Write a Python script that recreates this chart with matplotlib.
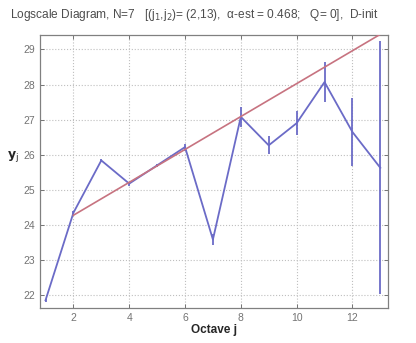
import matplotlib
matplotlib.use("Agg")
import matplotlib.pyplot as plt

# Data
octaves = [1, 2, 3, 4, 5, 6, 7, 8, 9, 10, 11, 12, 13]
yj = [21.86, 24.35, 25.84, 25.18, 25.70, 26.22, 23.59, 27.08, 26.27, 26.90, 28.07, 26.65, 25.63]
yerr = [0.04, 0.05, 0.05, 0.06, 0.05, 0.10, 0.17, 0.29, 0.26, 0.35, 0.58, 0.97, 3.6]
fit_j = [2, 13]
fit_y = [24.28, 29.43]
xticks = [2, 4, 6, 8, 10, 12]
yticks = [22, 23, 24, 25, 26, 27, 28, 29]

plt.rcParams['font.family'] = ['Liberation Sans', 'DejaVu Sans']

fig = plt.figure(figsize=(4.16, 3.43), dpi=100)
ax = fig.add_axes([0.096, 0.102, 0.837, 0.796])

blue = (0.42, 0.42, 0.78)
red = (0.78, 0.45, 0.50)

ax.errorbar(octaves, yj, yerr=yerr, color=blue, lw=1.3, elinewidth=1.3, capsize=0, zorder=3)
ax.plot(fit_j, fit_y, color=red, lw=1.2, zorder=4)

ax.set_xlim(0.8, 13.28)
ax.set_ylim(21.64, 29.41)
ax.set_xticks(xticks)
ax.set_yticks(yticks)
ax.grid(True, linestyle=':', color=(0.75, 0.75, 0.75), lw=0.8)
ax.tick_params(direction='in', top=True, right=True, length=3, width=0.7,
               colors=(0.45, 0.45, 0.45), labelsize=7.5, labelcolor=(0.45, 0.45, 0.45))
for s in ax.spines.values():
    s.set_color((0.5, 0.5, 0.5))
    s.set_linewidth(0.9)

ax.set_xlabel('Octave j', fontsize=8.5, fontweight='bold', labelpad=1, color=(0.15, 0.15, 0.15))
fig.text(0.031, 0.545, r'$\mathbf{y}_{\mathrm{j}}$', fontsize=9, ha='center', va='center',
         color=(0.15, 0.15, 0.15))

fig.text(0.024, 0.957,
         r'Logscale Diagram, N=7   [(j$_1$,j$_2$)= (2,13),  α-est = 0.468;   Q= 0],  D-init',
         fontsize=8.6, ha='left', va='center', color=(0.3, 0.3, 0.3))

fig.savefig('out.png', dpi=100)
